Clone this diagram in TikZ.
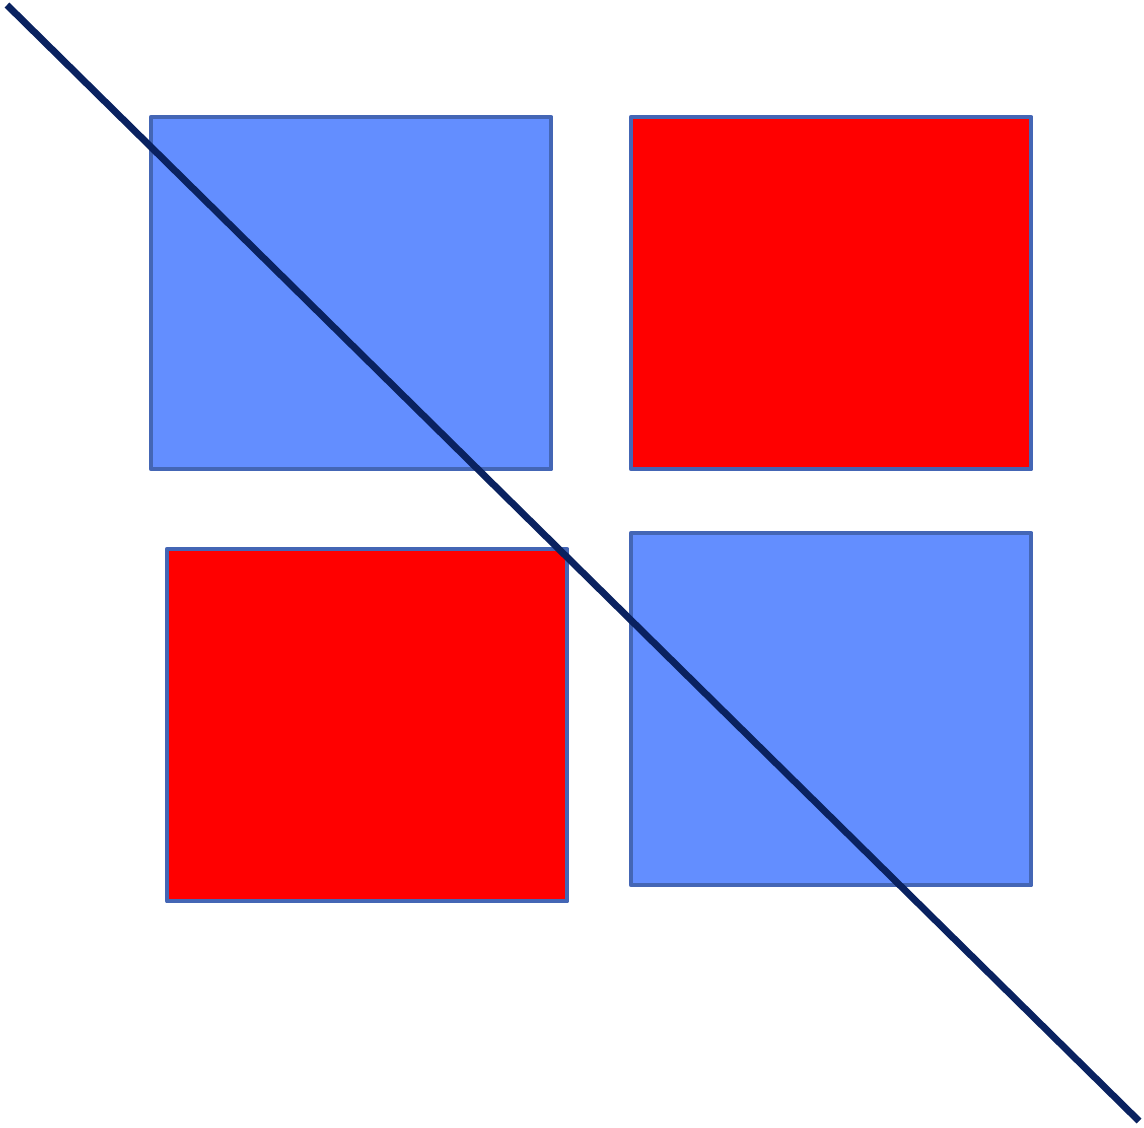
\documentclass[tikz,border=0pt]{standalone}
\usepackage{xcolor}
\usepackage{tikz}
\definecolor{tileblue}{HTML}{638EFF}
\definecolor{tilered}{HTML}{FF0000}
\definecolor{tileedge}{HTML}{4466B5}
\definecolor{slashnavy}{HTML}{0A2260}

\begin{document}
\begin{tikzpicture}[x=0.025cm,y=-0.025cm,
    tile/.style={draw=tileedge,line width=3.3pt,line join=round,
      minimum width=10cm,minimum height=8.8cm,inner sep=0pt,outer sep=0pt,
      anchor=north west}]
  \useasboundingbox (0,0) rectangle (1144,1127);
  \node[tile,fill=tileblue] (topleft)  at (151,117) {};
  \node[tile,fill=tilered]  (topright) at (631,117) {};
  \node[tile,fill=tilered]  (botleft)  at (167,549) {};
  \node[tile,fill=tileblue] (botright) at (631,533) {};
  \coordinate (slashtop) at (7,5);
  \coordinate (slashend) at (1139,1121);
  \draw[slashnavy,line width=4.9pt] (slashtop) -- (slashend);
\end{tikzpicture}
\end{document}
